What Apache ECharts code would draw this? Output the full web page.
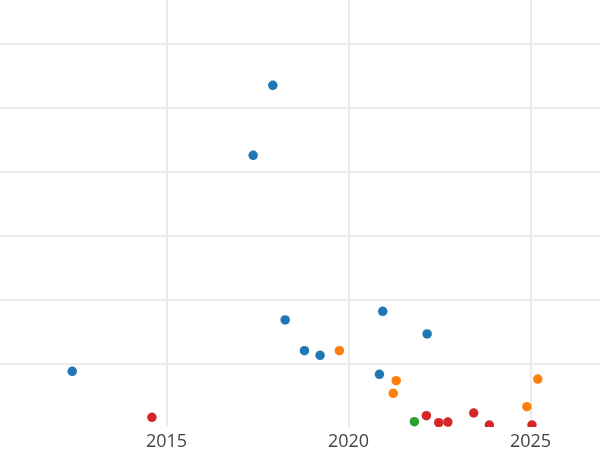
<!DOCTYPE html>
<html>
<head>
<meta charset="utf-8">
<script src="https://cdn.jsdelivr.net/npm/echarts@6/dist/echarts.min.js"></script>
<style>html,body{margin:0;padding:0;background:#fff}#chart{width:600px;height:450px}</style>
</head>
<body>
<div id="chart"></div>
<script>
// Year tick labels shown on the x axis
const xTicks = [2015, 2020, 2025];

// Series points: [year, value]
const blueData = [
  [2012.41, 8.75], [2017.92, 53.5], [2017.38, 42.55], [2018.26, 16.78],
  [2018.79, 11.97], [2019.22, 11.25], [2020.94, 18.14], [2022.16, 14.59],
  [2020.85, 8.28]
];
const orangeData = [
  [2019.75, 11.97], [2021.31, 7.28], [2021.23, 5.31], [2024.90, 3.21], [2025.20, 7.54]
];
const greenData = [
  [2021.81, 0.86]
];
const redData = [
  [2014.60, 1.55], [2022.14, 1.80], [2022.48, 0.70], [2022.73, 0.81],
  [2023.44, 2.22], [2023.87, 0.34], [2025.04, 0.34]
];

const chart = echarts.init(document.getElementById('chart'), null, {renderer: 'canvas'});
const gridLine = {show: true, lineStyle: {color: '#ebebeb', width: 2}};
const mk = (data, color) => ({
  type: 'scatter', data, symbolSize: 9.5, xAxisIndex: 0, yAxisIndex: 0,
  itemStyle: {color, opacity: 1}, emphasis: {disabled: true}, clip: false, z: 2
});
chart.setOption({
  animation: false,
  backgroundColor: '#fff',
  grid: {left: -15.5, right: -112.5, top: -20.1, bottom: 22.8, containLabel: false, outerBoundsMode: 'none'},
  xAxis: [
    {type: 'value', min: 2010, max: 2030, interval: 5,
     axisLine: {show: false}, axisTick: {show: false}, axisLabel: {show: false},
     splitLine: Object.assign({showMinLine: false}, gridLine), z: 0},
    {type: 'value', min: 2010, max: 2030, interval: 5, position: 'bottom',
     axisLine: {show: false}, axisTick: {show: false}, splitLine: {show: false},
     axisLabel: {show: true, margin: 6, color: '#444', fontSize: 18, fontFamily: 'Open Sans',
       showMinLabel: false, showMaxLabel: false,
       formatter: v => xTicks.includes(v) ? String(v) : ''},
     z: 10}
  ],
  yAxis: {type: 'value', min: 0, max: 70, interval: 10,
    axisLine: {show: false}, axisTick: {show: false}, axisLabel: {show: false},
    splitLine: Object.assign({showMinLine: false}, gridLine)},
  graphic: [{type: 'rect', shape: {x: 0, y: 427, width: 600, height: 23}, style: {fill: '#fff'}, z: 5, silent: true}],
  series: [
    mk(blueData, '#1f77b4'),
    mk(orangeData, '#ff7f0e'),
    mk(greenData, '#2ca02c'),
    mk(redData, '#d62728')
  ]
});
</script>
</body>
</html>
